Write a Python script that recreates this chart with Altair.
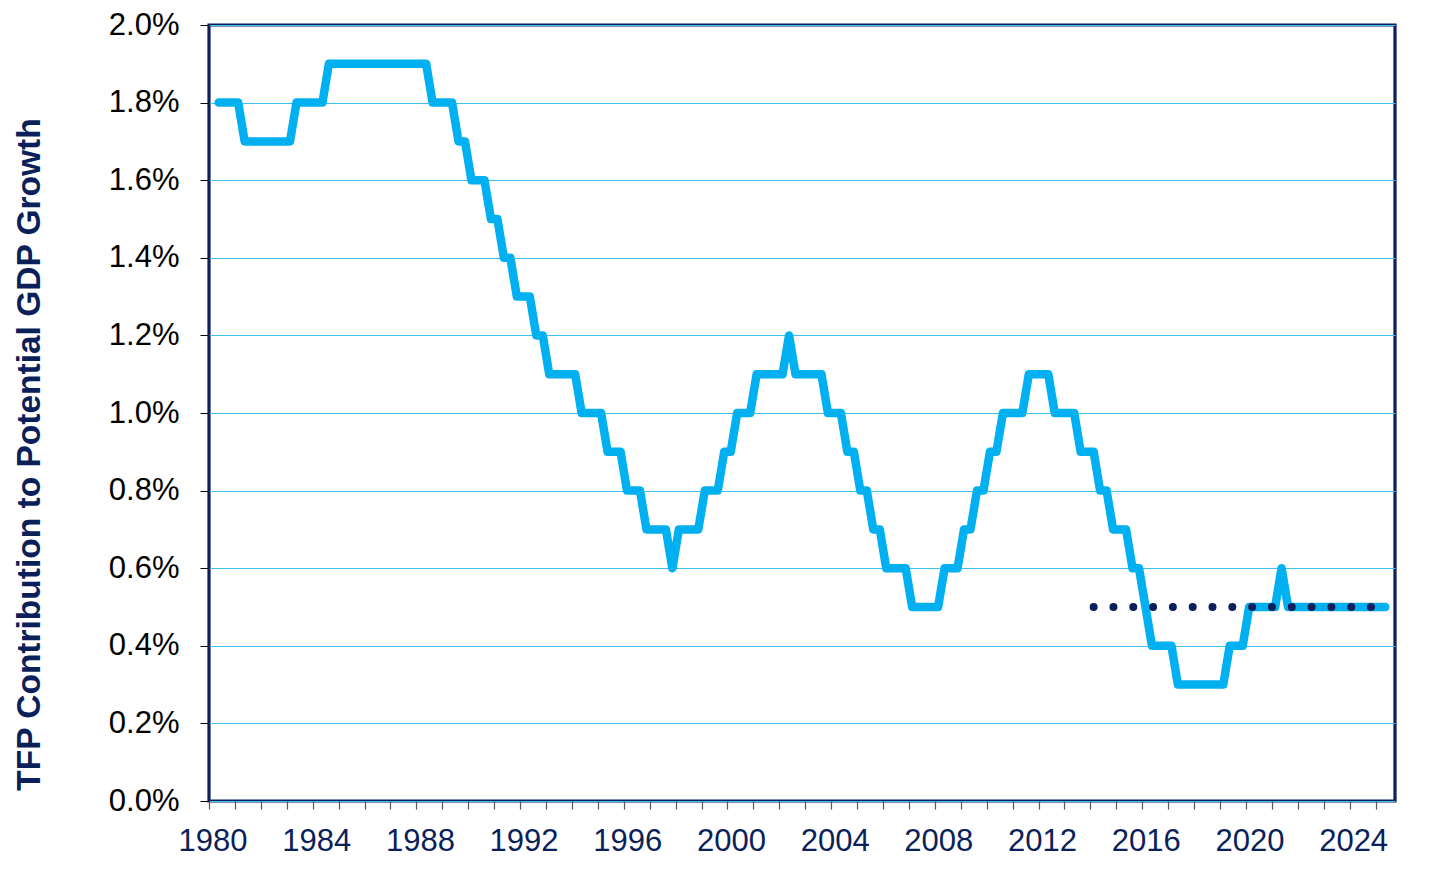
import altair as alt
import pandas as pd

# Quarterly TFP contribution to potential GDP growth (%), starting 1980Q2
first_quarter = "1980Q2"
tfp_values = [
    1.8, 1.8, 1.8,            # 1980 Q2-Q4
    1.8, 1.7, 1.7, 1.7,       # 1981
    1.7, 1.7, 1.7, 1.7,       # 1982
    1.7, 1.8, 1.8, 1.8,       # 1983
    1.8, 1.8, 1.9, 1.9,       # 1984
    1.9, 1.9, 1.9, 1.9,       # 1985
    1.9, 1.9, 1.9, 1.9,       # 1986
    1.9, 1.9, 1.9, 1.9,       # 1987
    1.9, 1.9, 1.8, 1.8,       # 1988
    1.8, 1.8, 1.7, 1.7,       # 1989
    1.6, 1.6, 1.6, 1.5,       # 1990
    1.5, 1.4, 1.4, 1.3,       # 1991
    1.3, 1.3, 1.2, 1.2,       # 1992
    1.1, 1.1, 1.1, 1.1,       # 1993
    1.1, 1.0, 1.0, 1.0,       # 1994
    1.0, 0.9, 0.9, 0.9,       # 1995
    0.8, 0.8, 0.8, 0.7,       # 1996
    0.7, 0.7, 0.7, 0.6,       # 1997
    0.7, 0.7, 0.7, 0.7,       # 1998
    0.8, 0.8, 0.8, 0.9,       # 1999
    0.9, 1.0, 1.0, 1.0,       # 2000
    1.1, 1.1, 1.1, 1.1,       # 2001
    1.1, 1.2, 1.1, 1.1,       # 2002
    1.1, 1.1, 1.1, 1.0,       # 2003
    1.0, 1.0, 0.9, 0.9,       # 2004
    0.8, 0.8, 0.7, 0.7,       # 2005
    0.6, 0.6, 0.6, 0.6,       # 2006
    0.5, 0.5, 0.5, 0.5,       # 2007
    0.5, 0.6, 0.6, 0.6,       # 2008
    0.7, 0.7, 0.8, 0.8,       # 2009
    0.9, 0.9, 1.0, 1.0,       # 2010
    1.0, 1.0, 1.1, 1.1,       # 2011
    1.1, 1.1, 1.0, 1.0,       # 2012
    1.0, 1.0, 0.9, 0.9,       # 2013
    0.9, 0.8, 0.8, 0.7,       # 2014
    0.7, 0.7, 0.6, 0.6,       # 2015
    0.5, 0.4, 0.4, 0.4,       # 2016
    0.4, 0.3, 0.3, 0.3,       # 2017
    0.3, 0.3, 0.3, 0.3,       # 2018
    0.3, 0.4, 0.4, 0.4,       # 2019
    0.5, 0.5, 0.5, 0.5,       # 2020
    0.5, 0.6, 0.5, 0.5,       # 2021
    0.5, 0.5, 0.5, 0.5,       # 2022
    0.5, 0.5, 0.5, 0.5,       # 2023
    0.5, 0.5, 0.5, 0.5,       # 2024
    0.5, 0.5,                 # 2025 Q1-Q2
]

# Dotted benchmark line
bench_quarters = ["2014Q1", "2024Q4"]
bench_values = [0.5, 0.5]

y_ticks = [0.0, 0.2, 0.4, 0.6, 0.8, 1.0, 1.2, 1.4, 1.6, 1.8, 2.0]
x_ticks = list(range(1980, 2026))

NAVY = "#0b1f5a"
BLUE = "#00b0f0"
FONT = "Liberation Sans"


def quarter_pos(periods):
    return [p.year + (p.quarter - 0.5) / 4 for p in periods]


periods = pd.period_range(start=first_quarter, periods=len(tfp_values), freq="Q")
df = pd.DataFrame({"t": quarter_pos(periods), "v": tfp_values})

bench_periods = [pd.Period(q, freq="Q") for q in bench_quarters]
bench = pd.DataFrame({"t": quarter_pos(bench_periods), "v": bench_values})

x_enc = alt.X(
    "t:Q",
    scale=alt.Scale(domain=[1980, 2025.75], nice=False, zero=False),
    axis=alt.Axis(
        values=x_ticks,
        tickCount=60,
        format="d",
        labelExpr="datum.value % 4 == 0 ? datum.label : ''",
        labelOverlap=False,
        labelBound=False,
        labelFlush=False,
        labelFont=FONT,
        labelFontSize=31,
        labelColor=NAVY,
        labelPadding=17,
        labelOffset=3.5,
        tickSize=8,
        tickColor="#555555",
        tickWidth=1.2,
        domain=False,
        grid=False,
        title=None,
    ),
)

y_enc = alt.Y(
    "v:Q",
    scale=alt.Scale(domain=[0, 2.0], nice=False),
    axis=alt.Axis(
        values=y_ticks,
        labelExpr="format(datum.value, '.1f') + '%'",
        labelFont=FONT,
        labelFontSize=31,
        labelColor="#000000",
        labelPadding=21,
        tickSize=9,
        tickColor="#000000",
        tickWidth=1,
        domain=False,
        grid=True,
        gridColor="#3dbff2",
        gridWidth=1.2,
        title="TFP Contribution to Potential GDP Growth",
        titleFont=FONT,
        titleFontSize=33.5,
        titleFontWeight="bold",
        titleColor=NAVY,
        titleAngle=270,
        titleAlign="center",
        titleBaseline="middle",
        titleX=-180,
        titleY=429,
    ),
)

line = alt.Chart(df).mark_line(
    color=BLUE, strokeWidth=8.5, strokeJoin="round", strokeCap="round"
).encode(x=x_enc, y=y_enc)

dots = alt.Chart(bench).mark_line(
    color=NAVY, strokeWidth=8, strokeCap="round", strokeDash=[0.01, 19.8]
).encode(x="t:Q", y="v:Q")

chart = (
    alt.layer(line, dots)
    .properties(
        width=1186,
        height=776,
        autosize=alt.AutoSizeParams(type="none"),
        padding={"left": 201, "top": 17, "right": 45, "bottom": 70},
    )
    .configure_view(stroke=NAVY, strokeWidth=3.2)
)

chart.save("out.html", embed_options={"renderer": "svg", "actions": False})
